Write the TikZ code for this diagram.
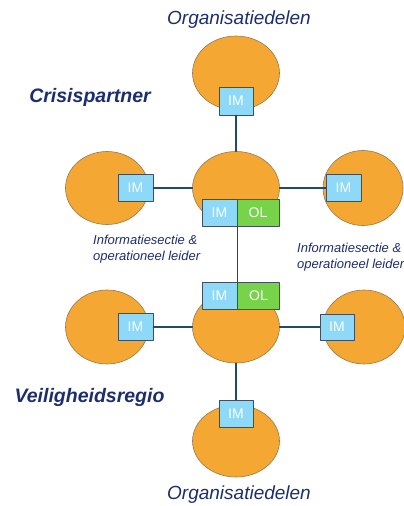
\documentclass[tikz,border=0pt]{standalone}
\usepackage{fontspec}
\setmainfont{Liberation Sans}
\usetikzlibrary{shapes.geometric}
\definecolor{vrOrange}{RGB}{245, 167, 51}
\definecolor{vrRim}{RGB}{150, 120, 80}
\definecolor{vrBlue}{RGB}{142, 216, 248}
\definecolor{vrGreen}{RGB}{119, 211, 74}
\definecolor{vrNavy}{RGB}{28, 46, 110}
\definecolor{vrLine}{RGB}{31, 74, 106}
\definecolor{vrEdge}{RGB}{64, 80, 96}

\begin{document}
\begin{tikzpicture}[x=1pt, y=-1pt, line cap=round, line join=round,
    part/.style={ellipse, fill=vrOrange, draw=vrRim, line width=0.6pt, inner sep=0pt},
    imbox/.style={rectangle, fill=vrBlue, draw=vrEdge, line width=0.8pt, text=white,
        minimum width=35pt, minimum height=27pt, inner sep=0pt,
        font=\fontsize{14}{16}\selectfont},
    olbox/.style={imbox, fill=vrGreen, minimum width=42pt},
    link/.style={draw=vrLine, line width=1.5pt},
    head/.style={text=vrNavy, font=\fontsize{19.5}{23}\selectfont\bfseries\itshape},
    side/.style={text=vrNavy, font=\fontsize{19}{23}\selectfont\itshape},
    note/.style={text=vrNavy, align=left, anchor=west, inner sep=0pt,
        font=\fontsize{13}{16}\selectfont\itshape}]
    \useasboundingbox (0,0) rectangle (404,506);

    % crisispartner
    \node[part, minimum width=87pt, minimum height=74pt] (topE) at (236,73) {};
    \node[part, minimum width=83pt, minimum height=73pt] (leftE) at (107,188) {};
    \node[part, minimum width=87pt, minimum height=73pt] (midE) at (236,188) {};
    \node[part, minimum width=80pt, minimum height=75pt] (rightE) at (363,188) {};

    % veiligheidsregio
    \node[part, minimum width=83pt, minimum height=74pt] (leftR) at (107,327) {};
    \node[part, minimum width=87pt, minimum height=72pt] (midR) at (236,327) {};
    \node[part, minimum width=82pt, minimum height=74pt] (rightR) at (364,327) {};
    \node[part, minimum width=87pt, minimum height=72pt] (botE) at (236,441) {};

    \node[imbox, minimum width=34pt, minimum height=28pt] (topIM) at (236,101) {IM};
    \node[imbox] (leftIM) at (135.5,188) {IM};
    \node[imbox] (rightIM) at (343.5,188) {IM};
    \node[imbox] (midIM) at (219.5,212.5) {IM};
    \node[olbox] (midOL) at (258,212.5) {OL};

    \node[imbox] (regIM) at (219.5,296) {IM};
    \node[olbox] (regOL) at (258.5,296) {OL};
    \node[imbox] (leftRIM) at (135.5,327) {IM};
    \node[imbox, minimum width=34pt, minimum height=26pt] (rightRIM) at (337,327) {IM};
    \node[imbox, minimum width=34pt] (botIM) at (236,413.5) {IM};

    \path[link] (topIM) -- (midE);
    \path[link] (leftIM) -- (midE);
    \path[link] (midE) -- (rightIM);
    \path[link] (midIM.south east) -- (regIM.north east);
    \path[link] (leftRIM) -- (midR);
    \path[link] (midR) -- (rightRIM);
    \path[link] (midR) -- (botIM);

    \node[side] (orgTop) at (239,20) {Organisatiedelen};
    \node[side] (orgBot) at (239,495) {Organisatiedelen};
    \node[head] (crisis) at (90,97) {Crisispartner};
    \node[head] (regio) at (89.5,397) {Veiligheidsregio};
    \node[note] (infoL) at (93,249) {Informatiesectie \&\\operationeel leider};
    \node[note] (infoR) at (297,257.5) {Informatiesectie \&\\operationeel leider};
\end{tikzpicture}
\end{document}
